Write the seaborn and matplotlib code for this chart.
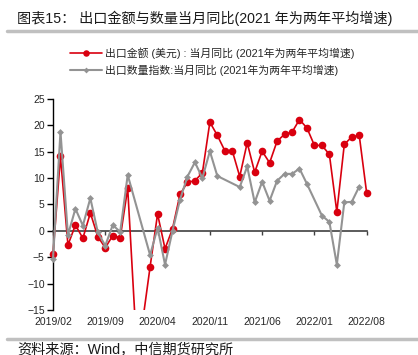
import numpy as np
import pandas as pd
import matplotlib
matplotlib.use('Agg')
import matplotlib.pyplot as plt
import matplotlib.patches as mpatches
import seaborn as sns

# 月份 2019/02 - 2022/08
months = pd.date_range('2019-02-01', '2022-08-01', freq='MS').strftime('%Y/%m').tolist()

# 出口金额(美元)：当月同比
export_value = [-4.4, 14.1, -2.7, 1.1, -1.4, 3.4, -1.1, -3.2, -0.9, -1.3, 8.1,
                -17.2, -17.2, -6.8, 3.2, -3.4, 0.4, 6.9, 9.2, 9.5, 11.0, 20.6, 18.1,
                15.2, 15.2, 10.3, 16.7, 11.1, 15.1, 12.9, 17.0, 18.3, 18.7, 21.1, 19.5,
                16.2, 16.2, 14.5, 3.6, 16.4, 17.8, 18.1, 7.1]

# 出口数量指数：当月同比
export_volume = [-5.3, 18.8, -0.8, 4.2, 1.0, 6.2, -0.3, -2.8, 1.1, -0.2, 10.6,
                 np.nan, np.nan, -4.6, 0.6, -6.4, 0.0, 5.9, 10.3, 13.0, 10.0, 15.1, 10.4,
                 np.nan, np.nan, 8.3, 12.2, 5.4, 9.3, 5.7, 9.5, 10.8, 10.8, 11.8, 8.9,
                 np.nan, 2.9, 1.7, -6.4, 5.4, 5.5, 8.4, np.nan]

label_value = '出口金额 (美元) : 当月同比 (2021年为两年平均增速)'
label_volume = '出口数量指数:当月同比 (2021年为两年平均增速)'

df = pd.DataFrame({'m': range(len(months)), 'value': export_value, 'volume': export_volume})

sns.set_style('white')
plt.rcParams['font.family'] = ['Liberation Sans', 'Noto Sans CJK SC', 'DejaVu Sans']

fig = plt.figure(figsize=(4.18, 3.55), dpi=100)
ax = fig.add_axes([0.1268, 0.1268, 0.7505, 0.5944])

red = '#d9000f'
grey = '#939393'

sns.lineplot(data=df.dropna(subset=['value']), x='m', y='value', ax=ax, color=red,
             linewidth=1.2, marker='o', markersize=5.5, markeredgewidth=0,
             label=label_value, zorder=3)
sns.lineplot(data=df.dropna(subset=['volume']), x='m', y='volume', ax=ax, color=grey,
             linewidth=1.5, marker='D', markersize=3.5, markeredgewidth=0,
             label=label_volume, zorder=4)

# 让首尾的点不被裁掉，但底部仍然裁剪
clip = mpatches.Rectangle((-0.03, 0), 1.06, 1, transform=ax.transAxes)
for line in ax.lines:
    line.set_clip_path(clip)

ax.set_xlim(0, len(months) - 1)
ax.set_ylim(-15, 25)
ax.set_yticks(range(-15, 30, 5))
ax.set_xlabel('')
ax.set_ylabel('')

# 横轴放在 0 处，刻度标签放在底部
ticks = list(range(0, len(months), 7))
ax.set_xticks(ticks)
ax.spines['bottom'].set_position(('data', 0))
ax.spines['bottom'].set_color('#404040')
ax.spines['bottom'].set_linewidth(1.2)
ax.spines['left'].set_color('black')
ax.spines['left'].set_linewidth(1.0)
ax.spines['top'].set_visible(False)
ax.spines['right'].set_visible(False)
ax.tick_params(axis='x', bottom=True, direction='out', length=3, width=1,
               color='#404040', labelbottom=False)
ax.tick_params(axis='y', left=True, direction='out', length=4, width=1,
               color='black', labelsize=7.5, pad=2)

sec = ax.secondary_xaxis('bottom')
sec.set_xticks(ticks, [months[i] for i in ticks])
sec.tick_params(length=0, pad=5, labelsize=7.5)
sec.spines['bottom'].set_visible(False)

ax.legend().remove()
handles, labels = ax.get_legend_handles_labels()
leg = fig.legend(handles, labels, loc='center', bbox_to_anchor=(0.508, 0.827),
                 frameon=False, fontsize=7.8, handlelength=2.9, handletextpad=0.3,
                 labelspacing=0.5, borderpad=0)
for h in leg.legend_handles:
    h.set_markersize(h.get_markersize() * 0.85)

# 标题、分隔线与资料来源
fig.text(0.041, 0.948, '图表15： 出口金额与数量当月同比(2021 年为两年平均增速)',
         fontsize=10.2, va='center', ha='left', color='#1a1a1a')
fig.add_artist(plt.Line2D([0.017, 1.0], [0.913, 0.913], transform=fig.transFigure,
                          color='#c0c0c0', linewidth=2.5))
fig.add_artist(plt.Line2D([0.017, 1.0], [0.045, 0.045], transform=fig.transFigure,
                          color='#c0c0c0', linewidth=2.5))
fig.text(0.041, 0.034, '资料来源：Wind，中信期货研究所', fontsize=10.2,
         va='top', ha='left', color='#1a1a1a')

fig.savefig('out.png', dpi=100)
